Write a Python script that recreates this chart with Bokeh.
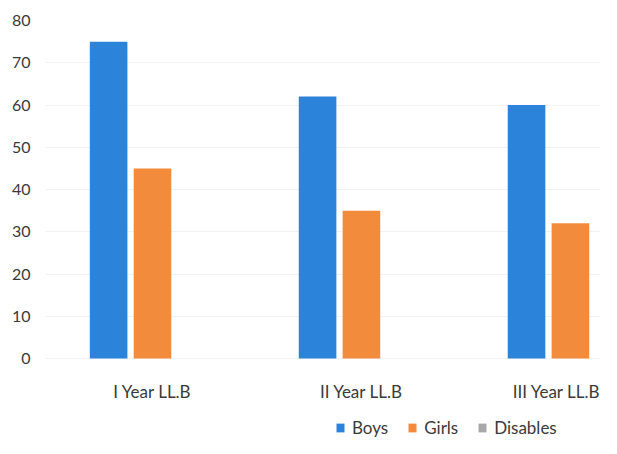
from bokeh.plotting import figure
from bokeh.models import ColumnDataSource, Range1d, FixedTicker, Legend, LegendItem
from bokeh.transform import dodge
from bokeh.embed import file_html
from bokeh.resources import INLINE

categories = ["I Year LL.B", "II Year LL.B", "III Year LL.B"]
boys = [75, 62, 60]
girls = [45, 35, 32]
disables = [0, 0, 0]
y_ticks = [0, 10, 20, 30, 40, 50, 60, 70, 80]

FONT = "Lato"
TEXT = "#3a3a3a"

src = ColumnDataSource(dict(x=list(range(len(categories))), boys=boys, girls=girls, disables=disables))

p = figure(width=600, height=438, output_backend="svg", toolbar_location=None,
           x_range=Range1d(-0.512, 2.144), y_range=Range1d(-18.93, 80),
           min_border_left=45, min_border_right=0, min_border_top=20, min_border_bottom=0)
p.outline_line_color = None
p.background_fill_color = "white"

bw = 0.18
r_boys = p.vbar(x=dodge("x", -0.21, range=p.x_range), top="boys", width=bw, source=src,
                fill_color="#2c84da", line_color=None)
r_girls = p.vbar(x="x", top="girls", width=bw, source=src,
                 fill_color="#f38b3c", line_color=None)
r_dis = p.vbar(x=dodge("x", 0.21, range=p.x_range), top="disables", width=bw, source=src,
               fill_color="#a8a8a8", line_color=None)

p.xaxis.ticker = FixedTicker(ticks=list(range(len(categories))))
p.xaxis.major_label_overrides = {i: c for i, c in enumerate(categories)}
p.xaxis.fixed_location = 0
p.yaxis.ticker = FixedTicker(ticks=y_ticks)
for ax in (p.xaxis[0], p.yaxis[0]):
    ax.axis_line_color = None
    ax.major_tick_line_color = None
    ax.minor_tick_line_color = None
    ax.major_tick_out = 0
    ax.major_tick_in = 0
    ax.major_label_text_font = FONT
    ax.major_label_text_color = TEXT
p.yaxis.major_label_text_font_size = "16px"
p.xaxis.major_label_text_font_size = "17px"
p.yaxis.major_label_standoff = 15
p.xaxis.major_label_standoff = 22

p.xgrid.grid_line_color = None
p.ygrid.grid_line_color = "#f2f2f2"

legend = Legend(items=[LegendItem(label="Boys", renderers=[r_boys]),
                       LegendItem(label="Girls", renderers=[r_girls]),
                       LegendItem(label="Disables", renderers=[r_dis])],
                orientation="horizontal", location=(290, 0),
                label_text_font=FONT, label_text_font_size="17px", label_text_color=TEXT,
                glyph_width=10, glyph_height=11, spacing=19, label_standoff=7,
                border_line_color=None, background_fill_alpha=0, padding=0, margin=0)
p.add_layout(legend, "center")

open("out.html", "w").write(file_html(p, INLINE))
